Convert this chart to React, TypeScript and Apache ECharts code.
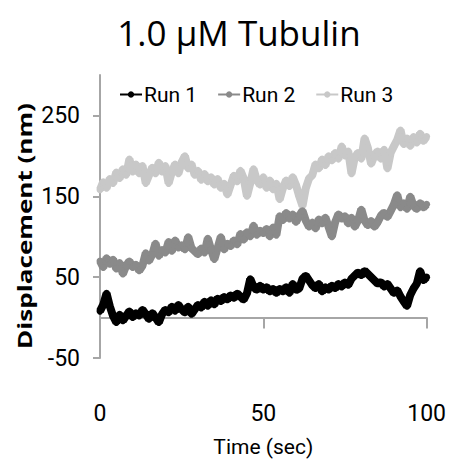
import React, { useEffect, useRef } from "react";
import * as echarts from "echarts";

const times: number[] = Array.from({ length: 101 }, (_, i) => i);

const run1: number[] = [
  8, 16, 30, 14, 2, -6, 4, -4, 2, 8,
  0, 6, 2, 10, 4, -2, 6, 0, -6, 4,
  10, 6, 14, 8, 16, 10, 6, 14, 4, 10,
  16, 12, 20, 14, 22, 16, 24, 20, 26, 22,
  28, 24, 30, 26, 22, 30, 48, 38, 34, 40,
  34, 38, 32, 36, 30, 36, 32, 38, 30, 42,
  34, 36, 48, 52, 46, 40, 36, 42, 32, 38,
  34, 40, 36, 42, 38, 44, 40, 48, 52, 56,
  52, 58, 54, 50, 46, 42, 44, 38, 42, 36,
  30, 34, 26, 20, 14, 28, 36, 42, 58, 46,
  50,
];

const run2: number[] = [
  70, 62, 74, 66, 72, 60, 68, 54, 64, 70,
  62, 66, 58, 64, 80, 70, 78, 92, 76, 84,
  80, 94, 82, 96, 86, 90, 84, 100, 86, 82,
  78, 86, 80, 98, 84, 72, 86, 100, 84, 92,
  88, 96, 90, 104, 96, 106, 100, 114, 102, 108,
  104, 110, 100, 112, 102, 126, 120, 130, 122, 128,
  118, 126, 132, 120, 112, 118, 110, 122, 116, 124,
  112, 100, 118, 128, 122, 126, 116, 124, 112, 120,
  134, 120, 114, 120, 112, 118, 126, 130, 124, 132,
  140, 152, 136, 142, 134, 150, 138, 134, 142, 136,
  140,
];

const run3: number[] = [
  158, 168, 160, 172, 166, 180, 172, 184, 176, 196,
  180, 190, 178, 188, 166, 176, 186, 178, 192, 180,
  188, 166, 180, 190, 178, 192, 200, 184, 190, 176,
  182, 170, 178, 168, 174, 164, 172, 160, 166, 152,
  164, 176, 168, 182, 172, 150, 166, 184, 170, 164,
  174, 160, 170, 158, 166, 146, 160, 170, 162, 174,
  164, 150, 138, 160, 172, 176, 190, 184, 196, 188,
  200, 194, 204, 196, 212, 200, 206, 178, 198, 204,
  196, 222, 210, 190, 200, 206, 196, 208, 184, 204,
  212, 220, 232, 214, 222, 212, 224, 216, 228, 218,
  224,
];

const seriesNames: string[] = ["Run 1", "Run 2", "Run 3"];
const seriesColors: string[] = ["#000000", "#8a8a8a", "#c8c8c8"];
const yTicks: number[] = [-50, 50, 150, 250];
const xTicks: number[] = [0, 50, 100];

const LABEL_FONT = "'Roboto', 'Liberation Sans', sans-serif";

export default function App() {
  const ref = useRef<HTMLDivElement>(null);
  useEffect(() => {
    if (!ref.current) return;
    const chart = echarts.init(ref.current, undefined, { renderer: "svg" });
    const datas = [run1, run2, run3];
    chart.setOption({
      animation: false,
      backgroundColor: "#ffffff",
      grid: { left: 100, right: 21, top: 75, bottom: 106 },
      graphic: [
        {
          type: "text",
          x: 239,
          y: 32,
          style: {
            text: "1.0 µM Tubulin",
            fontSize: 35,
            fontFamily: "'Open Sans', 'Noto Sans', sans-serif",
            fill: "#000",
            align: "center",
            verticalAlign: "middle",
          },
        },
        {
          type: "text",
          x: 25,
          y: 226,
          rotation: Math.PI / 2,
          scaleX: 1.45,
          scaleY: 1.05,
          style: {
            text: "Displacement (nm)",
            fontSize: 18,
            fontWeight: "bold",
            fontFamily: "'Open Sans', 'DejaVu Sans', sans-serif",
            fill: "#000",
            align: "center",
            verticalAlign: "middle",
          },
        },
      ],
      legend: {
        left: 114,
        top: 79,
        itemGap: 20,
        itemWidth: 22,
        itemHeight: 8,
        textStyle: { fontSize: 21, fontFamily: LABEL_FONT, color: "#000", padding: [0, 0, 0, -3] },
        data: seriesNames.map((name) => ({ name, itemStyle: {}, lineStyle: { width: 2 } })),
      },
      xAxis: {
        type: "value",
        min: 0,
        max: 100,
        interval: 50,
        name: "Time (sec)",
        nameLocation: "middle",
        nameGap: 78,
        nameTextStyle: { fontSize: 21, fontFamily: LABEL_FONT, color: "#000" },
        axisLine: { lineStyle: { color: "#a6a6a6", width: 2 } },
        axisTick: { show: true, length: 11, lineStyle: { color: "#a6a6a6", width: 2 }, customValues: xTicks },
        axisLabel: { margin: 44, fontSize: 23, fontFamily: LABEL_FONT, color: "#000", customValues: xTicks },
        splitLine: { show: false },
      },
      yAxis: {
        type: "value",
        min: -50,
        max: 300,
        axisLine: { show: true, lineStyle: { color: "#a6a6a6", width: 2 } },
        axisTick: { show: true, length: 7, lineStyle: { color: "#a6a6a6", width: 2 }, customValues: yTicks },
        axisLabel: { margin: 20, fontSize: 23, fontFamily: LABEL_FONT, color: "#000", customValues: yTicks },
        splitLine: { show: false },
      },
      series: seriesNames.map((name, k) => ({
        name,
        type: "line",
        data: times.map((t, i) => [t, datas[k][i]]),
        symbol: "circle",
        symbolSize: 7,
        showSymbol: true,
        itemStyle: { color: seriesColors[k] },
        lineStyle: { color: seriesColors[k], width: 8 },
        z: 3 - k,
      })),
    });
    return () => chart.dispose();
  }, []);
  return <div ref={ref} style={{ position: "fixed", left: 0, top: 0, width: 449, height: 464 }} />;
}
